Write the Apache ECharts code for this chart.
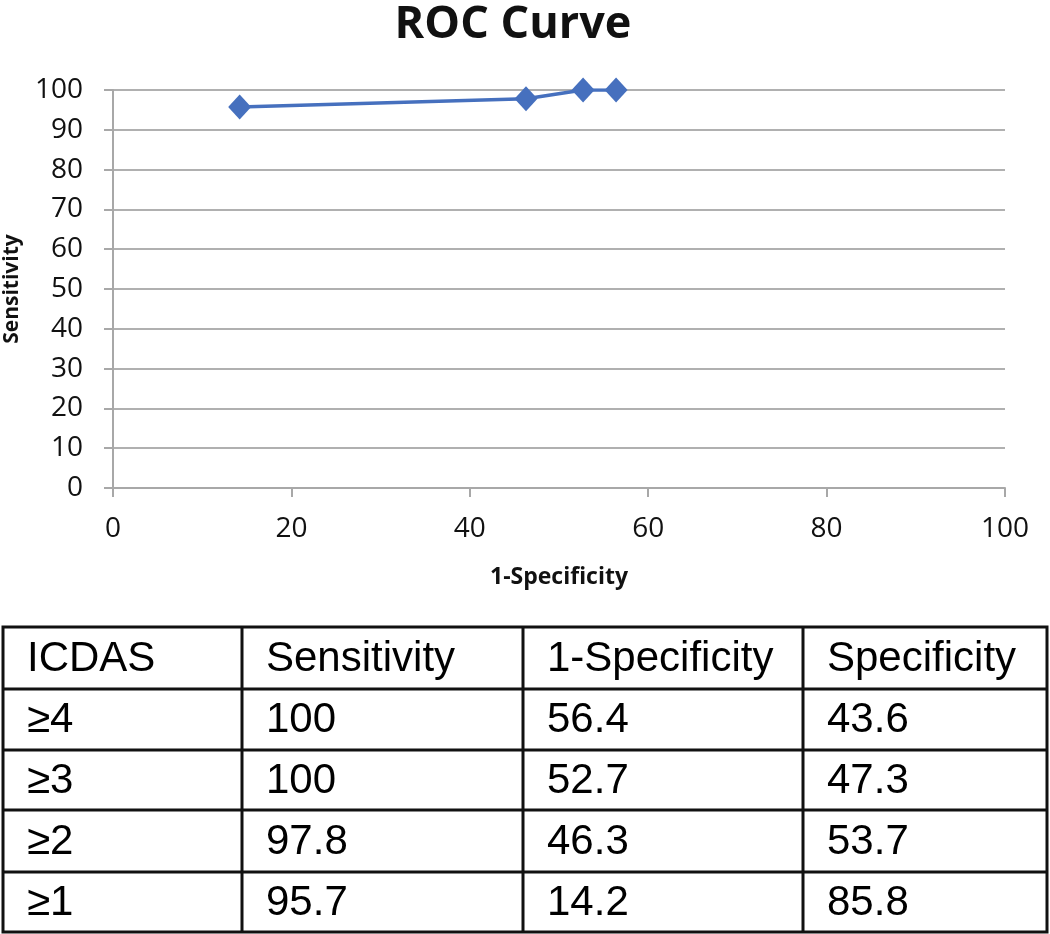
<!DOCTYPE html>
<html>
<head>
<meta charset="utf-8">
<script src="https://cdn.jsdelivr.net/npm/echarts@6/dist/echarts.min.js"></script>
<style>
html,body{margin:0;padding:0;background:#fff;}
#chart{width:1050px;height:934px;}
</style>
</head>
<body>
<div id="chart"></div>
<script>
// ---- data ----
var icdas = ['≥4', '≥3', '≥2', '≥1'];
var sensitivity = [100, 100, 97.8, 95.7];
var oneMinusSpecificity = [56.4, 52.7, 46.3, 14.2];
var specificity = [43.6, 47.3, 53.7, 85.8];
var tableHeader = ['ICDAS', 'Sensitivity', '1-Specificity', 'Specificity'];
var chartTitle = 'ROC Curve';
var xName = '1-Specificity';
var yName = 'Sensitivity';

// ---- layout ----
var colX = [3, 242, 523, 803, 1047];
var rowY = [627, 689, 750, 810, 872, 932];

var chart = echarts.init(document.getElementById('chart'));

var points = icdas.map(function (_, i) { return [oneMinusSpecificity[i], sensitivity[i]]; });

// table graphics built from the arrays
var tableRows = [tableHeader].concat(icdas.map(function (c, i) {
  return [c, String(sensitivity[i]), String(oneMinusSpecificity[i]), String(specificity[i])];
}));
var g = [];
var lw = 3;
g.push({type: 'rect', shape: {x: colX[0], y: rowY[0], width: colX[4] - colX[0], height: rowY[5] - rowY[0]},
  style: {fill: '#fff', stroke: '#111', lineWidth: lw}});
for (var c = 1; c < colX.length - 1; c++) {
  g.push({type: 'line', shape: {x1: colX[c], y1: rowY[0], x2: colX[c], y2: rowY[5]}, style: {stroke: '#111', lineWidth: lw}});
}
for (var r = 1; r < rowY.length - 1; r++) {
  g.push({type: 'line', shape: {x1: colX[0], y1: rowY[r], x2: colX[4], y2: rowY[r]}, style: {stroke: '#111', lineWidth: lw}});
}
tableRows.forEach(function (row, ri) {
  row.forEach(function (txt, ci) {
    g.push({type: 'text', x: colX[ci] + 24, y: (rowY[ri] + rowY[ri + 1]) / 2 + 1,
      style: {text: txt, fill: '#000', font: '42px "Liberation Sans", Arial, sans-serif', textAlign: 'left', textVerticalAlign: 'middle'}});
  });
});

chart.setOption({
  animation: false,
  backgroundColor: '#fff',
  title: {
    text: chartTitle, left: 508, top: -2, textAlign: 'center',
    textStyle: {fontFamily: 'Open Sans', fontWeight: 'bold', fontSize: 45, color: '#111'}
  },
  grid: {left: 113, right: 45, top: 90, bottom: 446, containLabel: false, outerBoundsMode: 'none'},
  xAxis: {
    type: 'value', min: 0, max: 100, interval: 20,
    name: xName, nameLocation: 'middle', nameGap: 78,
    nameTextStyle: {fontFamily: 'Open Sans', fontWeight: 'bold', fontSize: 23, color: '#111'},
    axisLine: {show: true, lineStyle: {color: '#a8a8a8', width: 2}},
    axisTick: {show: true, length: 9, lineStyle: {color: '#a8a8a8', width: 2}},
    splitLine: {show: false},
    axisLabel: {fontFamily: 'Open Sans', fontSize: 28, color: '#111', margin: 27}
  },
  yAxis: {
    type: 'value', min: 0, max: 100, interval: 10,
    name: yName, nameLocation: 'middle', nameGap: 90, nameRotate: 90,
    nameTextStyle: {fontFamily: 'Open Sans', fontWeight: 'bold', fontSize: 21, color: '#111'},
    axisLine: {show: true, lineStyle: {color: '#a8a8a8', width: 2}},
    axisTick: {show: true, length: 9, lineStyle: {color: '#a8a8a8', width: 2}},
    splitLine: {show: true, lineStyle: {color: '#b0b0b0', width: 2}},
    axisLabel: {fontFamily: 'Open Sans', fontSize: 28, color: '#111', margin: 30}
  },
  series: [{
    type: 'line',
    data: points,
    symbol: 'diamond',
    symbolSize: [23, 25],
    itemStyle: {color: '#4670be'},
    lineStyle: {color: '#4670be', width: 3.5}
  }],
  graphic: g
});
</script>
</body>
</html>
